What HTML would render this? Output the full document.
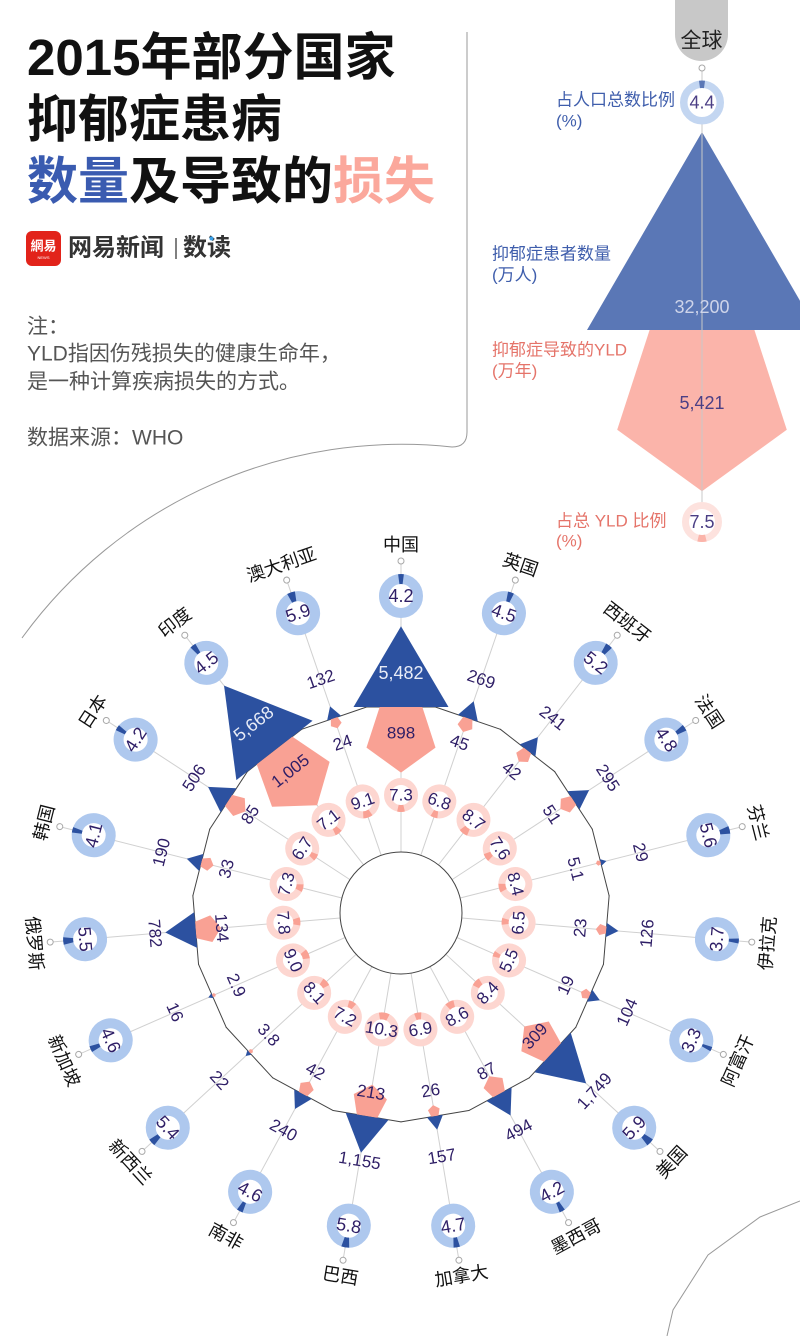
<!DOCTYPE html>
<html><head><meta charset="utf-8">
<style>
html,body{margin:0;padding:0;background:#fff;}
svg{display:block;}
.t{font-family:"Liberation Sans","Noto Sans CJK SC",sans-serif;}
.n{font-family:"Liberation Sans","Noto Sans CJK SC",sans-serif;font-size:17px;fill:#2e1e66;text-anchor:middle;dominant-baseline:central;}
.nb{font-family:"Liberation Sans","Noto Sans CJK SC",sans-serif;font-size:18px;fill:#2e1e66;text-anchor:middle;dominant-baseline:central;}
.w{font-family:"Liberation Sans","Noto Sans CJK SC",sans-serif;font-size:18px;fill:#e8ecf7;text-anchor:middle;dominant-baseline:central;}
.c{font-family:"Liberation Sans","Noto Sans CJK SC",sans-serif;font-size:18px;fill:#111;text-anchor:middle;dominant-baseline:central;}
.sp line{stroke:#d0d0d0;stroke-width:1;}
.sp line.pg{stroke:#444;stroke-width:1;stroke-linecap:round;}
.tr{fill:#2c51a0;}
.pt{fill:#f9a194;}
.sc{fill:#fff;stroke:#a8a8a8;stroke-width:1;}
.br{fill:#fff;stroke:#aec8ee;stroke-width:10;}
.bw{fill:none;stroke:#2c51a0;stroke-width:10;}
.pr{fill:#fff;stroke:#fdd6d0;stroke-width:7;}
.pw{fill:none;stroke:#f9a194;stroke-width:7;}
.lb{font-family:"Liberation Sans","Noto Sans CJK SC",sans-serif;font-size:17px;dominant-baseline:central;}
</style></head>
<body>
<svg width="800" height="1336" viewBox="0 0 800 1336" xmlns="http://www.w3.org/2000/svg">
<rect width="800" height="1336" fill="#fff"/>

<!-- Header -->
<text class="t" x="27" y="75" font-size="51" font-weight="bold" fill="#111">2015年部分国家</text>
<text class="t" x="27" y="137" font-size="51" font-weight="bold" fill="#111">抑郁症患病</text>
<text class="t" x="27" y="199" font-size="51" font-weight="bold" fill="#111"><tspan fill="#3a5bb0">数量</tspan>及导致的<tspan fill="#fba89c">损失</tspan></text>

<rect x="26" y="231" width="35" height="35" rx="6" fill="#e2231a"/>
<text class="t" x="43.5" y="246" font-size="13" font-weight="bold" fill="#fff" text-anchor="middle" dominant-baseline="central">網易</text>
<text class="t" x="43.5" y="257.5" font-size="4" fill="#fff" text-anchor="middle" dominant-baseline="central">NEWS</text>
<text class="t" x="68" y="248" font-size="24" font-weight="bold" fill="#333" dominant-baseline="central">网易新闻</text>
<line x1="176" y1="238" x2="176" y2="259" stroke="#555" stroke-width="1.5"/>
<text class="t" x="183" y="248" font-size="24" font-weight="bold" fill="#333" dominant-baseline="central">数读</text>
<circle cx="211.5" cy="238.5" r="2" fill="#3aa0e8"/>

<text class="t" x="27" y="327" font-size="21" fill="#555" dominant-baseline="central">注：</text>
<text class="t" x="27" y="354" font-size="21" fill="#555" dominant-baseline="central">YLD指因伤残损失的健康生命年，</text>
<text class="t" x="27" y="382" font-size="21" fill="#555" dominant-baseline="central">是一种计算疾病损失的方式。</text>
<text class="t" x="27" y="438" font-size="21" fill="#555" dominant-baseline="central">数据来源：WHO</text>

<path d="M467 32 V432 Q467 447 452 447 A469 469 0 0 0 22 638" fill="none" stroke="#999" stroke-width="1"/>
<polyline points="800,1201 760,1217 708,1255 673,1310 667,1336" fill="none" stroke="#999" stroke-width="1"/>

<!-- Global -->
<path d="M675 0 H728 V34.5 A26.5 26.5 0 0 1 675 34.5 Z" fill="#c8c8c8"/>
<text class="t" x="701.5" y="41" font-size="21" fill="#222" text-anchor="middle" dominant-baseline="central">全球</text>
<polygon points="702,132 817,330 587,330" fill="#5a77b6"/>
<polygon points="649.6,330 754.4,330 786.8,429.7 702,491.3 617.2,429.7" fill="#fbb4aa"/>
<line x1="702" y1="68" x2="702" y2="522" stroke="#c8c8c8" stroke-width="1"/>
<circle cx="702" cy="68" r="3" class="sc"/>
<circle cx="702" cy="102.5" r="18.25" fill="#fff" stroke="#c3d6f1" stroke-width="7.5"/>
<circle cx="702" cy="102.5" r="18.25" fill="none" stroke="#5a77b6" stroke-width="7.5" stroke-dasharray="5.05 200" transform="rotate(-97.92 702 102.5)"/>
<text class="nb" x="702" y="102.5" fill="#4b3f85" style="fill:#4b3f85">4.4</text>
<circle cx="702" cy="522" r="16.5" fill="#fff" stroke="#fde2de" stroke-width="7"/>
<circle cx="702" cy="522" r="16.5" fill="none" stroke="#fbb4aa" stroke-width="7" stroke-dasharray="7.78 200" transform="rotate(76.5 702 522)"/>
<text class="nb" x="702" y="522" style="fill:#4b3f85">7.5</text>
<text class="nb" x="702" y="307" style="fill:#cfd5ea">32,200</text>
<text class="nb" x="702" y="403" style="fill:#4b3f85">5,421</text>
<text class="lb" x="556" y="100" fill="#3f5eac">占人口总数比例</text>
<text class="lb" x="556" y="121" fill="#3f5eac">(%)</text>
<text class="lb" x="492" y="254" fill="#3f5eac">抑郁症患者数量</text>
<text class="lb" x="492" y="275" fill="#3f5eac">(万人)</text>
<text class="lb" x="492" y="350" fill="#e5746a">抑郁症导致的YLD</text>
<text class="lb" x="492" y="371" fill="#e5746a">(万年)</text>
<text class="lb" x="556" y="521" fill="#e5746a">占总 YLD 比例</text>
<text class="lb" x="556" y="541" fill="#e5746a">(%)</text>

<!-- Spokes and polygon -->
<g class="sp">
<g transform="rotate(0 401 913)"><line x1="401" y1="852" x2="401" y2="561"/><line class="pg" x1="366.63" y1="707" x2="435.37" y2="707"/></g>
<g transform="rotate(18.947 401 913)"><line x1="401" y1="852" x2="401" y2="561"/><line class="pg" x1="366.63" y1="707" x2="435.37" y2="707"/></g>
<g transform="rotate(37.895 401 913)"><line x1="401" y1="852" x2="401" y2="561"/><line class="pg" x1="366.63" y1="707" x2="435.37" y2="707"/></g>
<g transform="rotate(56.842 401 913)"><line x1="401" y1="852" x2="401" y2="561"/><line class="pg" x1="366.63" y1="707" x2="435.37" y2="707"/></g>
<g transform="rotate(75.789 401 913)"><line x1="401" y1="852" x2="401" y2="561"/><line class="pg" x1="366.63" y1="707" x2="435.37" y2="707"/></g>
<g transform="rotate(94.737 401 913)"><line x1="401" y1="852" x2="401" y2="561"/><line class="pg" x1="366.63" y1="707" x2="435.37" y2="707"/></g>
<g transform="rotate(113.684 401 913)"><line x1="401" y1="852" x2="401" y2="561"/><line class="pg" x1="366.63" y1="707" x2="435.37" y2="707"/></g>
<g transform="rotate(132.632 401 913)"><line x1="401" y1="852" x2="401" y2="561"/><line class="pg" x1="366.63" y1="707" x2="435.37" y2="707"/></g>
<g transform="rotate(151.579 401 913)"><line x1="401" y1="852" x2="401" y2="561"/><line class="pg" x1="366.63" y1="707" x2="435.37" y2="707"/></g>
<g transform="rotate(170.526 401 913)"><line x1="401" y1="852" x2="401" y2="561"/><line class="pg" x1="366.63" y1="707" x2="435.37" y2="707"/></g>
<g transform="rotate(189.474 401 913)"><line x1="401" y1="852" x2="401" y2="561"/><line class="pg" x1="366.63" y1="707" x2="435.37" y2="707"/></g>
<g transform="rotate(208.421 401 913)"><line x1="401" y1="852" x2="401" y2="561"/><line class="pg" x1="366.63" y1="707" x2="435.37" y2="707"/></g>
<g transform="rotate(227.368 401 913)"><line x1="401" y1="852" x2="401" y2="561"/><line class="pg" x1="366.63" y1="707" x2="435.37" y2="707"/></g>
<g transform="rotate(246.316 401 913)"><line x1="401" y1="852" x2="401" y2="561"/><line class="pg" x1="366.63" y1="707" x2="435.37" y2="707"/></g>
<g transform="rotate(265.263 401 913)"><line x1="401" y1="852" x2="401" y2="561"/><line class="pg" x1="366.63" y1="707" x2="435.37" y2="707"/></g>
<g transform="rotate(284.211 401 913)"><line x1="401" y1="852" x2="401" y2="561"/><line class="pg" x1="366.63" y1="707" x2="435.37" y2="707"/></g>
<g transform="rotate(303.158 401 913)"><line x1="401" y1="852" x2="401" y2="561"/><line class="pg" x1="366.63" y1="707" x2="435.37" y2="707"/></g>
<g transform="rotate(322.105 401 913)"><line x1="401" y1="852" x2="401" y2="561"/><line class="pg" x1="366.63" y1="707" x2="435.37" y2="707"/></g>
<g transform="rotate(341.053 401 913)"><line x1="401" y1="852" x2="401" y2="561"/><line class="pg" x1="366.63" y1="707" x2="435.37" y2="707"/></g>
</g>
<circle cx="401" cy="913" r="61" fill="none" stroke="#444" stroke-width="1"/>

<!-- 0 中国 -->
<g transform="rotate(0 401 913)">
<polygon class="pt" points="379.67,707 422.33,707 435.52,747.57 401,772.65 366.48,747.57"/>
<polygon class="tr" points="353.5,707 448.5,707 401,626.3"/>
<circle class="sc" cx="401" cy="561" r="3"/>
<circle class="br" cx="401" cy="596" r="17"/><circle class="bw" cx="401" cy="596" r="17" stroke-dasharray="4.49 200" transform="rotate(-97.56 401 596)"/>
<circle class="pr" cx="401" cy="795" r="13.5"/><circle class="pw" cx="401" cy="795" r="13.5" stroke-dasharray="6.19 200" transform="rotate(76.86 401 795)"/>
<text class="nb" x="401" y="596">4.2</text><text class="n" x="401" y="795">7.3</text>
<text class="w" x="401" y="673">5,482</text><text class="n" x="401" y="733">898</text>
<text class="c" x="401" y="545">中国</text>
</g>
<!-- 1 英国 -->
<g transform="rotate(18.947 401 913)">
<polygon class="pt" points="396.23,707 405.77,707 408.72,716.08 401,721.69 393.28,716.08"/>
<polygon class="tr" points="390.48,707 411.52,707 401,689.1"/>
<circle class="sc" cx="401" cy="561" r="3"/>
<circle class="br" cx="401" cy="596" r="17"/><circle class="bw" cx="401" cy="596" r="17" stroke-dasharray="4.81 200" transform="rotate(-98.1 401 596)"/>
<circle class="pr" cx="401" cy="795" r="13.5"/><circle class="pw" cx="401" cy="795" r="13.5" stroke-dasharray="5.77 200" transform="rotate(77.76 401 795)"/>
<text class="nb" x="401" y="596">4.5</text><text class="n" x="401" y="795">6.8</text>
<text class="n" x="401" y="666">269</text><text class="n" x="401" y="733">45</text>
<text class="c" x="401" y="545">英国</text>
</g>
<!-- 2 西班牙 -->
<g transform="rotate(37.895 401 913)">
<polygon class="pt" points="396.39,707 405.61,707 408.47,715.78 401,721.2 393.53,715.78"/>
<polygon class="tr" points="391.04,707 410.96,707 401,690.1"/>
<circle class="sc" cx="401" cy="561" r="3"/>
<circle class="br" cx="401" cy="596" r="17"/><circle class="bw" cx="401" cy="596" r="17" stroke-dasharray="5.55 200" transform="rotate(-99.36 401 596)"/>
<circle class="pr" cx="401" cy="795" r="13.5"/><circle class="pw" cx="401" cy="795" r="13.5" stroke-dasharray="7.38 200" transform="rotate(74.34 401 795)"/>
<text class="nb" x="401" y="596">5.2</text><text class="n" x="401" y="795">8.7</text>
<text class="n" x="401" y="666">241</text><text class="n" x="401" y="733">42</text>
<text class="c" x="401" y="545">西班牙</text>
</g>
<!-- 3 法国 -->
<g transform="rotate(56.842 401 913)">
<polygon class="pt" points="395.92,707 406.08,707 409.23,716.67 401,722.65 392.77,716.67"/>
<polygon class="tr" points="389.98,707 412.02,707 401,688.3"/>
<circle class="sc" cx="401" cy="561" r="3"/>
<circle class="br" cx="401" cy="596" r="17"/><circle class="bw" cx="401" cy="596" r="17" stroke-dasharray="5.13 200" transform="rotate(-98.64 401 596)"/>
<circle class="pr" cx="401" cy="795" r="13.5"/><circle class="pw" cx="401" cy="795" r="13.5" stroke-dasharray="6.45 200" transform="rotate(76.32 401 795)"/>
<text class="nb" x="401" y="596">4.8</text><text class="n" x="401" y="795">7.6</text>
<text class="n" x="401" y="666">295</text><text class="n" x="401" y="733">51</text>
<text class="c" x="401" y="545">法国</text>
</g>
<!-- 4 芬兰 -->
<g transform="rotate(75.789 401 913)">
<polygon class="pt" points="399.4,707 402.6,707 403.6,710.05 401,711.94 398.4,710.05"/>
<polygon class="tr" points="397.54,707 404.46,707 401,701.1"/>
<circle class="sc" cx="401" cy="561" r="3"/>
<circle class="br" cx="401" cy="596" r="17"/><circle class="bw" cx="401" cy="596" r="17" stroke-dasharray="5.98 200" transform="rotate(-100.08 401 596)"/>
<circle class="pr" cx="401" cy="795" r="13.5"/><circle class="pw" cx="401" cy="795" r="13.5" stroke-dasharray="7.12 200" transform="rotate(74.88 401 795)"/>
<text class="nb" x="401" y="596">5.6</text><text class="n" x="401" y="795">8.4</text>
<text class="n" x="401" y="666">29</text><text class="n" x="401" y="733">5.1</text>
<text class="c" x="401" y="545">芬兰</text>
</g>
<!-- 5 伊拉克 -->
<g transform="rotate(94.737 401 913)">
<polygon class="pt" points="397.58,707 404.42,707 406.53,713.5 401,717.51 395.47,713.5"/>
<polygon class="tr" points="393.8,707 408.2,707 401,694.8"/>
<circle class="sc" cx="401" cy="561" r="3"/>
<circle class="br" cx="401" cy="596" r="17"/><circle class="bw" cx="401" cy="596" r="17" stroke-dasharray="3.95 200" transform="rotate(-96.66 401 596)"/>
<circle class="pr" cx="401" cy="795" r="13.5"/><circle class="pw" cx="401" cy="795" r="13.5" stroke-dasharray="5.51 200" transform="rotate(78.3 401 795)"/>
<text class="nb" x="401" y="596" transform="rotate(180 401 596)">3.7</text><text class="n" x="401" y="795" transform="rotate(180 401 795)">6.5</text>
<text class="n" x="401" y="666" transform="rotate(180 401 666)">126</text><text class="n" x="401" y="733" transform="rotate(180 401 733)">23</text>
<text class="c" x="401" y="545" transform="rotate(180 401 545)">伊拉克</text>
</g>
<!-- 6 阿富汗 -->
<g transform="rotate(113.684 401 913)">
<polygon class="pt" points="397.9,707 404.1,707 406.02,712.9 401,716.55 395.98,712.9"/>
<polygon class="tr" points="394.46,707 407.54,707 401,695.9"/>
<circle class="sc" cx="401" cy="561" r="3"/>
<circle class="br" cx="401" cy="596" r="17"/><circle class="bw" cx="401" cy="596" r="17" stroke-dasharray="3.52 200" transform="rotate(-95.94 401 596)"/>
<circle class="pr" cx="401" cy="795" r="13.5"/><circle class="pw" cx="401" cy="795" r="13.5" stroke-dasharray="4.67 200" transform="rotate(80.1 401 795)"/>
<text class="nb" x="401" y="596" transform="rotate(180 401 596)">3.3</text><text class="n" x="401" y="795" transform="rotate(180 401 795)">5.5</text>
<text class="n" x="401" y="666" transform="rotate(180 401 666)">104</text><text class="n" x="401" y="733" transform="rotate(180 401 733)">19</text>
<text class="c" x="401" y="545" transform="rotate(180 401 545)">阿富汗</text>
</g>
<!-- 7 美国 -->
<g transform="rotate(132.632 401 913)">
<polygon class="pt" points="388.49,707 413.51,707 421.24,730.79 401,745.5 380.76,730.79"/>
<polygon class="tr" points="374.17,707 427.83,707 401,661.4"/>
<circle class="sc" cx="401" cy="561" r="3"/>
<circle class="br" cx="401" cy="596" r="17"/><circle class="bw" cx="401" cy="596" r="17" stroke-dasharray="6.30 200" transform="rotate(-100.62 401 596)"/>
<circle class="pr" cx="401" cy="795" r="13.5"/><circle class="pw" cx="401" cy="795" r="13.5" stroke-dasharray="7.12 200" transform="rotate(74.88 401 795)"/>
<text class="nb" x="401" y="596" transform="rotate(180 401 596)">5.9</text><text class="n" x="401" y="795" transform="rotate(180 401 795)">8.4</text>
<text class="n" x="401" y="650" transform="rotate(180 401 650)">1,749</text><text class="n" x="401" y="731" transform="rotate(180 401 731)">309</text>
<text class="c" x="401" y="545" transform="rotate(180 401 545)">美国</text>
</g>
<!-- 8 墨西哥 -->
<g transform="rotate(151.579 401 913)">
<polygon class="pt" points="394.36,707 407.64,707 411.74,719.62 401,727.42 390.26,719.62"/>
<polygon class="tr" points="386.74,707 415.26,707 401,682.8"/>
<circle class="sc" cx="401" cy="561" r="3"/>
<circle class="br" cx="401" cy="596" r="17"/><circle class="bw" cx="401" cy="596" r="17" stroke-dasharray="4.49 200" transform="rotate(-97.56 401 596)"/>
<circle class="pr" cx="401" cy="795" r="13.5"/><circle class="pw" cx="401" cy="795" r="13.5" stroke-dasharray="7.29 200" transform="rotate(74.52 401 795)"/>
<text class="nb" x="401" y="596" transform="rotate(180 401 596)">4.2</text><text class="n" x="401" y="795" transform="rotate(180 401 795)">8.6</text>
<text class="n" x="401" y="666" transform="rotate(180 401 666)">494</text><text class="n" x="401" y="733" transform="rotate(180 401 733)">87</text>
<text class="c" x="401" y="545" transform="rotate(180 401 545)">墨西哥</text>
</g>
<!-- 9 加拿大 -->
<g transform="rotate(170.526 401 913)">
<polygon class="pt" points="397.37,707 404.63,707 406.87,713.9 401,718.16 395.13,713.9"/>
<polygon class="tr" points="392.96,707 409.04,707 401,693.3"/>
<circle class="sc" cx="401" cy="561" r="3"/>
<circle class="br" cx="401" cy="596" r="17"/><circle class="bw" cx="401" cy="596" r="17" stroke-dasharray="5.02 200" transform="rotate(-98.46 401 596)"/>
<circle class="pr" cx="401" cy="795" r="13.5"/><circle class="pw" cx="401" cy="795" r="13.5" stroke-dasharray="5.85 200" transform="rotate(77.58 401 795)"/>
<text class="nb" x="401" y="596" transform="rotate(180 401 596)">4.7</text><text class="n" x="401" y="795" transform="rotate(180 401 795)">6.9</text>
<text class="n" x="401" y="666" transform="rotate(180 401 666)">157</text><text class="n" x="401" y="733" transform="rotate(180 401 733)">26</text>
<text class="c" x="401" y="545" transform="rotate(180 401 545)">加拿大</text>
</g>
<!-- 10 巴西 -->
<g transform="rotate(189.474 401 913)">
<polygon class="pt" points="390.61,707 411.39,707 417.81,726.75 401,738.96 384.19,726.75"/>
<polygon class="tr" points="379.2,707 422.8,707 401,669.9"/>
<circle class="sc" cx="401" cy="561" r="3"/>
<circle class="br" cx="401" cy="596" r="17"/><circle class="bw" cx="401" cy="596" r="17" stroke-dasharray="6.19 200" transform="rotate(-100.44 401 596)"/>
<circle class="pr" cx="401" cy="795" r="13.5"/><circle class="pw" cx="401" cy="795" r="13.5" stroke-dasharray="8.74 200" transform="rotate(71.46 401 795)"/>
<text class="nb" x="401" y="596" transform="rotate(180 401 596)">5.8</text><text class="n" x="401" y="795" transform="rotate(180 401 795)">10.3</text>
<text class="n" x="401" y="662" transform="rotate(180 401 662)">1,155</text><text class="n" x="401" y="731" transform="rotate(180 401 731)">213</text>
<text class="c" x="401" y="545" transform="rotate(180 401 545)">巴西</text>
</g>
<!-- 11 南非 -->
<g transform="rotate(208.421 401 913)">
<polygon class="pt" points="396.39,707 405.61,707 408.47,715.78 401,721.2 393.53,715.78"/>
<polygon class="tr" points="391.06,707 410.94,707 401,690.1"/>
<circle class="sc" cx="401" cy="561" r="3"/>
<circle class="br" cx="401" cy="596" r="17"/><circle class="bw" cx="401" cy="596" r="17" stroke-dasharray="4.91 200" transform="rotate(-98.28 401 596)"/>
<circle class="pr" cx="401" cy="795" r="13.5"/><circle class="pw" cx="401" cy="795" r="13.5" stroke-dasharray="6.11 200" transform="rotate(77.04 401 795)"/>
<text class="nb" x="401" y="596" transform="rotate(180 401 596)">4.6</text><text class="n" x="401" y="795" transform="rotate(180 401 795)">7.2</text>
<text class="n" x="401" y="666" transform="rotate(180 401 666)">240</text><text class="n" x="401" y="733" transform="rotate(180 401 733)">42</text>
<text class="c" x="401" y="545" transform="rotate(180 401 545)">南非</text>
</g>
<!-- 12 新西兰 -->
<g transform="rotate(227.368 401 913)">
<polygon class="pt" points="399.61,707 402.39,707 403.24,709.64 401,711.27 398.76,709.64"/>
<polygon class="tr" points="397.99,707 404.01,707 401,701.9"/>
<circle class="sc" cx="401" cy="561" r="3"/>
<circle class="br" cx="401" cy="596" r="17"/><circle class="bw" cx="401" cy="596" r="17" stroke-dasharray="5.77 200" transform="rotate(-99.72 401 596)"/>
<circle class="pr" cx="401" cy="795" r="13.5"/><circle class="pw" cx="401" cy="795" r="13.5" stroke-dasharray="6.87 200" transform="rotate(75.42 401 795)"/>
<text class="nb" x="401" y="596" transform="rotate(180 401 596)">5.4</text><text class="n" x="401" y="795" transform="rotate(180 401 795)">8.1</text>
<text class="n" x="401" y="666" transform="rotate(180 401 666)">22</text><text class="n" x="401" y="733" transform="rotate(180 401 733)">3.8</text>
<text class="c" x="401" y="545" transform="rotate(180 401 545)">新西兰</text>
</g>
<!-- 13 新加坡 -->
<g transform="rotate(246.316 401 913)">
<polygon class="pt" points="399.79,707 402.21,707 402.96,709.3 401,710.73 399.04,709.3"/>
<polygon class="tr" points="398.43,707 403.57,707 401,702.6"/>
<circle class="sc" cx="401" cy="561" r="3"/>
<circle class="br" cx="401" cy="596" r="17"/><circle class="bw" cx="401" cy="596" r="17" stroke-dasharray="4.91 200" transform="rotate(-98.28 401 596)"/>
<circle class="pr" cx="401" cy="795" r="13.5"/><circle class="pw" cx="401" cy="795" r="13.5" stroke-dasharray="7.63 200" transform="rotate(73.8 401 795)"/>
<text class="nb" x="401" y="596" transform="rotate(180 401 596)">4.6</text><text class="n" x="401" y="795" transform="rotate(180 401 795)">9.0</text>
<text class="n" x="401" y="666" transform="rotate(180 401 666)">16</text><text class="n" x="401" y="733" transform="rotate(180 401 733)">2.9</text>
<text class="c" x="401" y="545" transform="rotate(180 401 545)">新加坡</text>
</g>
<!-- 14 俄罗斯 -->
<g transform="rotate(265.263 401 913)">
<polygon class="pt" points="392.76,707 409.24,707 414.33,722.67 401,732.36 387.67,722.67"/>
<polygon class="tr" points="383.06,707 418.94,707 401,676.5"/>
<circle class="sc" cx="401" cy="561" r="3"/>
<circle class="br" cx="401" cy="596" r="17"/><circle class="bw" cx="401" cy="596" r="17" stroke-dasharray="5.87 200" transform="rotate(-99.9 401 596)"/>
<circle class="pr" cx="401" cy="795" r="13.5"/><circle class="pw" cx="401" cy="795" r="13.5" stroke-dasharray="6.62 200" transform="rotate(75.96 401 795)"/>
<text class="nb" x="401" y="596" transform="rotate(180 401 596)">5.5</text><text class="n" x="401" y="795" transform="rotate(180 401 795)">7.8</text>
<text class="n" x="401" y="666" transform="rotate(180 401 666)">782</text><text class="n" x="401" y="733" transform="rotate(180 401 733)">134</text>
<text class="c" x="401" y="545" transform="rotate(180 401 545)">俄罗斯</text>
</g>
<!-- 15 韩国 -->
<g transform="rotate(284.211 401 913)">
<polygon class="pt" points="396.91,707 405.09,707 407.62,714.78 401,719.59 394.38,714.78"/>
<polygon class="tr" points="392.16,707 409.84,707 401,692"/>
<circle class="sc" cx="401" cy="561" r="3"/>
<circle class="br" cx="401" cy="596" r="17"/><circle class="bw" cx="401" cy="596" r="17" stroke-dasharray="4.38 200" transform="rotate(-97.38 401 596)"/>
<circle class="pr" cx="401" cy="795" r="13.5"/><circle class="pw" cx="401" cy="795" r="13.5" stroke-dasharray="6.19 200" transform="rotate(76.86 401 795)"/>
<text class="nb" x="401" y="596">4.1</text><text class="n" x="401" y="795">7.3</text>
<text class="n" x="401" y="666">190</text><text class="n" x="401" y="733">33</text>
<text class="c" x="401" y="545">韩国</text>
</g>
<!-- 16 日本 -->
<g transform="rotate(303.158 401 913)">
<polygon class="pt" points="394.44,707 407.56,707 411.61,719.48 401,727.19 390.39,719.48"/>
<polygon class="tr" points="386.57,707 415.43,707 401,682.5"/>
<circle class="sc" cx="401" cy="561" r="3"/>
<circle class="br" cx="401" cy="596" r="17"/><circle class="bw" cx="401" cy="596" r="17" stroke-dasharray="4.49 200" transform="rotate(-97.56 401 596)"/>
<circle class="pr" cx="401" cy="795" r="13.5"/><circle class="pw" cx="401" cy="795" r="13.5" stroke-dasharray="5.68 200" transform="rotate(77.94 401 795)"/>
<text class="nb" x="401" y="596">4.2</text><text class="n" x="401" y="795">6.7</text>
<text class="n" x="401" y="666">506</text><text class="n" x="401" y="733">85</text>
<text class="c" x="401" y="545">日本</text>
</g>
<!-- 17 印度 -->
<g transform="rotate(322.105 401 913)">
<polygon class="pt" points="378.44,707 423.56,707 437.5,749.91 401,776.43 364.5,749.91"/>
<polygon class="tr" points="352.7,707 449.3,707 401,624.9"/>
<circle class="sc" cx="401" cy="561" r="3"/>
<circle class="br" cx="401" cy="596" r="17"/><circle class="bw" cx="401" cy="596" r="17" stroke-dasharray="4.81 200" transform="rotate(-98.1 401 596)"/>
<circle class="pr" cx="401" cy="795" r="13.5"/><circle class="pw" cx="401" cy="795" r="13.5" stroke-dasharray="6.02 200" transform="rotate(77.22 401 795)"/>
<text class="nb" x="401" y="596">4.5</text><text class="n" x="401" y="795">7.1</text>
<text class="w" x="401" y="673">5,668</text><text class="n" x="401" y="733">1,005</text>
<text class="c" x="401" y="545">印度</text>
</g>
<!-- 18 澳大利亚 -->
<g transform="rotate(341.053 401 913)">
<polygon class="pt" points="397.51,707 404.49,707 406.64,713.63 401,717.73 395.36,713.63"/>
<polygon class="tr" points="393.63,707 408.37,707 401,694.5"/>
<circle class="sc" cx="401" cy="561" r="3"/>
<circle class="br" cx="401" cy="596" r="17"/><circle class="bw" cx="401" cy="596" r="17" stroke-dasharray="6.30 200" transform="rotate(-100.62 401 596)"/>
<circle class="pr" cx="401" cy="795" r="13.5"/><circle class="pw" cx="401" cy="795" r="13.5" stroke-dasharray="7.72 200" transform="rotate(73.62 401 795)"/>
<text class="nb" x="401" y="596">5.9</text><text class="n" x="401" y="795">9.1</text>
<text class="n" x="401" y="666">132</text><text class="n" x="401" y="733">24</text>
<text class="c" x="401" y="545">澳大利亚</text>
</g>
</svg>
</body></html>
